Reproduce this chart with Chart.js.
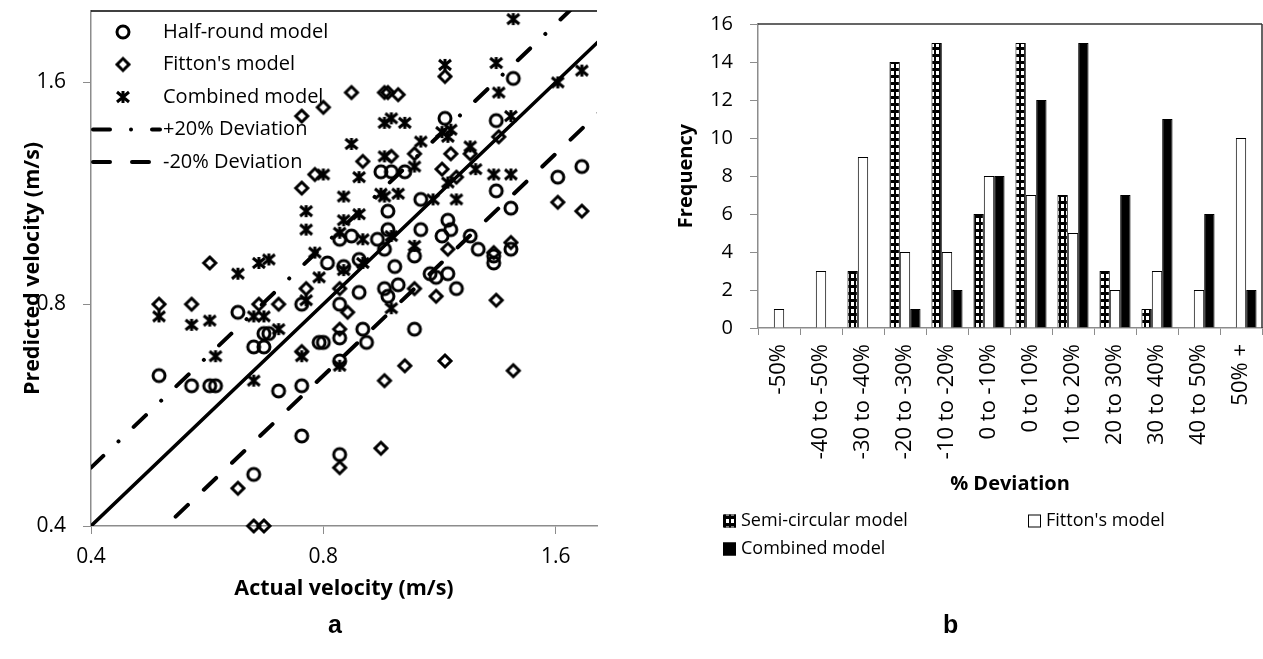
<!DOCTYPE html>
<html>
<head>
<meta charset="utf-8">
<script src="https://cdn.jsdelivr.net/npm/chart.js@4.4.1/dist/chart.umd.min.js"></script>
<style>
  html, body { margin: 0; padding: 0; background: #fff; }
  body { width: 1263px; height: 659px; position: relative; overflow: hidden; }
  #left { position: absolute; left: 0; top: 0; width: 605px; height: 659px; }
  #right { position: absolute; left: 640px; top: 0; width: 623px; height: 659px; }
  .panel { position: absolute; top: 610px; font: bold 25px "Liberation Sans", Arial, sans-serif; color: #000; }
</style>
</head>
<body>
<div id="left"><canvas id="scatter"></canvas></div>
<div id="right"><canvas id="bars"></canvas></div>
<div class="panel" style="left:328px">a</div>
<div class="panel" style="left:943px">b</div>

<script>
// ---- panel a: predicted vs actual velocity (m/s), [actual, predicted]
const halfRound = [
  [0.49,0.64],[0.54,0.62],[0.57,0.62],[0.58,0.62],[0.62,0.78],[0.67,0.73],[0.68,0.73],[0.65,0.70],
  [0.67,0.70],[0.70,0.61],[0.75,0.62],[0.75,0.53],[0.65,0.47],[0.75,0.80],[0.79,0.71],[0.80,0.71],
  [0.84,0.72],[0.84,0.80],[0.90,0.74],[0.91,0.71],[1.05,0.74],[0.84,0.67],[0.84,0.50],[0.81,0.91],
  [0.85,0.90],[0.89,0.92],[0.84,0.98],[0.87,0.99],[0.94,0.98],[0.96,0.95],[0.97,1.01],[0.97,1.07],
  [0.95,1.21],[0.98,1.21],[1.02,1.21],[1.07,1.11],[1.07,1.01],[0.99,0.90],[1.00,0.85],[0.96,0.84],
  [0.97,0.82],[0.89,0.83],[1.05,0.93],[1.10,0.88],[1.12,0.87],[1.16,0.88],[1.19,0.84],[1.16,1.04],
  [1.17,1.01],[1.14,0.99],[1.24,0.99],[1.27,0.95],[1.33,0.93],[1.33,0.91],[1.40,0.95],[1.34,1.14],
  [1.40,1.08],[1.61,1.19],[1.73,1.23],[1.15,1.43],[1.34,1.42],[1.41,1.62]
];
const fittons = [
  [0.49,0.80],[0.54,0.80],[0.57,0.91],[0.66,0.80],[0.70,0.80],[0.75,0.69],[0.62,0.45],[0.65,0.40],
  [0.67,0.40],[0.76,0.84],[0.75,1.15],[0.78,1.20],[0.75,1.44],[0.80,1.48],[0.87,1.55],[0.96,1.55],
  [0.97,1.55],[1.00,1.54],[1.15,1.63],[1.35,1.35],[1.05,1.28],[1.17,1.28],[1.24,1.28],[0.90,1.25],
  [0.98,1.27],[1.14,1.22],[1.19,1.19],[1.61,1.10],[1.73,1.07],[1.40,0.97],[1.33,0.94],[1.16,0.95],
  [0.84,0.84],[1.05,0.84],[1.12,0.82],[1.34,0.81],[0.86,0.78],[0.84,0.74],[0.96,0.63],[1.02,0.66],
  [1.15,0.67],[1.41,0.65],[0.95,0.51],[0.84,0.48]
];
const combined = [
  [0.49,0.77],[0.54,0.75],[0.57,0.76],[0.65,0.77],[0.67,0.77],[0.70,0.74],[0.58,0.68],[0.65,0.63],
  [0.75,0.68],[0.62,0.88],[0.66,0.91],[0.68,0.92],[0.76,1.07],[0.76,1.01],[1.41,1.95],[1.15,1.69],
  [1.34,1.70],[1.35,1.55],[1.73,1.66],[1.61,1.60],[1.40,1.44],[0.96,1.41],[0.98,1.43],[1.02,1.41],
  [0.87,1.32],[1.07,1.33],[1.14,1.37],[1.16,1.35],[1.17,1.38],[1.24,1.31],[1.26,1.22],[1.33,1.20],
  [1.40,1.20],[0.89,1.19],[0.80,1.20],[1.05,1.23],[0.96,1.27],[0.85,1.12],[0.95,1.13],[0.96,1.12],
  [1.00,1.13],[0.85,1.04],[0.89,1.06],[1.11,1.11],[1.19,1.11],[0.84,1.00],[0.90,0.98],[0.78,0.94],
  [0.79,0.87],[0.85,0.89],[0.90,0.91],[0.98,0.99],[1.05,0.96],[0.76,0.81],[1.16,1.17],[0.98,0.79],
  [0.84,0.66]
];
const velocityTicks = [0.4, 0.8, 1.6];
const refLineX = [0.4, 2.0];

// ---- panel b: frequency of % deviation
const deviationBins = ['-50%', '-40 to -50%', '-30 to -40%', '-20 to -30%', '-10 to -20%', '0 to -10%',
  '0 to 10%', '10 to 20%', '20 to 30%', '30 to 40%', '40 to 50%', '50% +'];
const semiCircularFreq = [0, 0, 3, 14, 15, 6, 15, 7, 3, 1, 0, 0];
const fittonFreq = [1, 3, 9, 4, 4, 8, 7, 5, 2, 3, 2, 10];
const combinedFreq = [0, 0, 0, 1, 2, 8, 12, 15, 7, 11, 6, 2];

Chart.defaults.font.family = "'Open Sans', sans-serif";
Chart.defaults.color = '#000';
const AXIS = '#8c8c8c';

// marker glyphs like the Excel ones
function marker(kind) {
  const c = document.createElement('canvas');
  c.width = 20; c.height = 20;
  const g = c.getContext('2d');
  g.strokeStyle = '#000';
  g.lineWidth = 3;
  g.beginPath();
  if (kind === 'circle') {
    g.arc(10, 10, 6, 0, Math.PI * 2);
  } else if (kind === 'diamond') {
    g.moveTo(10, 4); g.lineTo(16, 10); g.lineTo(10, 16); g.lineTo(4, 10); g.closePath();
  } else {
    g.moveTo(4, 5); g.lineTo(16, 15);
    g.moveTo(16, 5); g.lineTo(4, 15);
    g.moveTo(10, 4); g.lineTo(10, 16);
  }
  g.stroke();
  return c;
}

function semiPattern() {
  const c = document.createElement('canvas');
  c.width = 5; c.height = 7;
  const g = c.getContext('2d');
  g.fillStyle = '#000'; g.fillRect(0, 0, 5, 7);
  g.fillStyle = '#fff'; g.fillRect(1, 1, 3, 4);
  return g.createPattern(c, 'repeat');
}

// keep the plot area where the layout padding puts it
function fixBox(size, dim) {
  return (s) => {
    s[dim] = size;
    s.paddingTop = 0; s.paddingBottom = 0; s.paddingLeft = 0; s.paddingRight = 0;
  };
}

// black top (and right) edge of the plot area
const frame = {
  id: 'frame',
  beforeDatasetsDraw(chart, args, opts) {
    const { ctx, chartArea: a } = chart;
    ctx.save();
    ctx.strokeStyle = opts.color || '#000';
    ctx.lineWidth = 1.5;
    ctx.beginPath();
    ctx.moveTo(a.left, a.top); ctx.lineTo(a.right, a.top);
    if (opts.right) { ctx.moveTo(a.right, a.top); ctx.lineTo(a.right, a.bottom); }
    ctx.stroke();
    ctx.restore();
  }
};

// legend inside the plot, one row per labelled dataset
const insideLegend = {
  id: 'insideLegend',
  afterDatasetsDraw(chart, args, o) {
    const { ctx, chartArea } = chart;
    ctx.save();
    ctx.font = o.font;
    ctx.textBaseline = 'middle';
    let y = chartArea.top + o.top;
    chart.data.datasets.forEach((ds) => {
      if (!ds.label) return;
      const x0 = chartArea.left + o.left;
      if (ds.pointStyle instanceof HTMLCanvasElement) {
        const img = ds.pointStyle;
        ctx.drawImage(img, x0 + o.markerX - img.width / 2, y - img.height / 2);
      } else {
        ctx.strokeStyle = ds.borderColor;
        ctx.lineWidth = ds.borderWidth;
        ctx.lineCap = ds.borderCapStyle || 'butt';
        ctx.setLineDash(ds.borderDash || []);
        ctx.beginPath();
        ctx.moveTo(x0 + 2, y); ctx.lineTo(x0 + o.sampleLen, y);
        ctx.stroke();
        ctx.setLineDash([]);
      }
      ctx.fillStyle = '#000';
      ctx.fillText(ds.label, x0 + o.textX, y);
      y += o.rowGap;
    });
    ctx.restore();
  }
};

// two-column legend under the bar chart
const boxLegend = {
  id: 'boxLegend',
  afterDraw(chart, args, o) {
    const { ctx } = chart;
    ctx.save();
    ctx.font = o.font;
    ctx.textBaseline = 'middle';
    chart.data.datasets.forEach((ds, i) => {
      const x = o.x + (i % o.columns) * o.colWidth;
      const y = o.y + Math.floor(i / o.columns) * o.rowHeight;
      ctx.fillStyle = ds.backgroundColor;
      ctx.fillRect(x, y - o.box / 2, o.box, o.box);
      ctx.strokeStyle = '#000';
      ctx.lineWidth = 1;
      ctx.strokeRect(x + 0.5, y - o.box / 2 + 0.5, o.box - 1, o.box - 1);
      ctx.fillStyle = '#000';
      ctx.fillText(ds.label, x + o.box + o.gap, y);
    });
    ctx.restore();
  }
};

function pointSet(label, pts, kind) {
  return {
    label,
    data: pts.map(([x, y]) => ({ x, y })),
    pointStyle: marker(kind),
    pointRadius: 7,
    pointHoverRadius: 7,
    showLine: false,
    clip: false
  };
}

function refLine(label, factor, dash, width) {
  return {
    label,
    data: refLineX.map((x) => ({ x, y: x * factor })),
    showLine: true,
    borderColor: '#000',
    borderWidth: width,
    borderDash: dash,
    borderCapStyle: 'round',
    pointRadius: 0,
    pointHoverRadius: 0,
    fill: false
  };
}

new Chart(document.getElementById('scatter'), {
  type: 'scatter',
  data: {
    datasets: [
      pointSet('Half-round model', halfRound, 'circle'),
      pointSet("Fitton's model", fittons, 'diamond'),
      pointSet('Combined model', combined, 'star'),
      refLine('+20% Deviation', 1.2, [17, 21, 0.01, 21], 4),
      refLine('-20% Deviation', 0.8, [17, 22], 4),
      refLine('', 1.0, [], 3.5)
    ]
  },
  options: {
    responsive: true,
    maintainAspectRatio: false,
    animation: false,
    layout: { padding: { top: 11, right: 5, bottom: 53, left: 0 } },
    plugins: {
      legend: { display: false },
      tooltip: { enabled: false },
      frame: { color: '#000' },
      insideLegend: { font: '20px "Open Sans"', left: 0, top: 21, markerX: 32, sampleLen: 69, textX: 72, rowGap: 32.5 }
    },
    scales: {
      x: {
        type: 'logarithmic',
        min: 0.4,
        max: 1.81,
        afterBuildTicks: (s) => { s.ticks = velocityTicks.map((v) => ({ value: v })); },
        afterFit: fixBox(80, 'height'),
        ticks: { callback: (v) => Number(v).toFixed(1), font: { size: 21 }, padding: 10, maxRotation: 0 },
        grid: { drawOnChartArea: false, tickLength: 8, color: AXIS },
        border: { color: AXIS, width: 1.5 },
        title: { display: true, text: 'Actual velocity (m/s)', font: { size: 21.5, weight: 'bold' }, padding: { top: 0, bottom: 4 } }
      },
      y: {
        type: 'logarithmic',
        min: 0.4,
        max: 2.0,
        afterBuildTicks: (s) => { s.ticks = velocityTicks.map((v) => ({ value: v })); },
        afterFit: fixBox(91, 'width'),
        ticks: { callback: (v) => Number(v).toFixed(1), font: { size: 21 }, padding: 17 },
        grid: { drawOnChartArea: false, tickLength: 8, color: AXIS },
        border: { color: AXIS, width: 1.5 },
        title: { display: true, text: 'Predicted velocity (m/s)', font: { size: 21.5, weight: 'bold' }, padding: { top: 20, bottom: 0 } }
      }
    }
  },
  plugins: [frame, insideLegend]
});

new Chart(document.getElementById('bars'), {
  type: 'bar',
  data: {
    labels: deviationBins,
    datasets: [
      { label: 'Semi-circular model', data: semiCircularFreq, backgroundColor: semiPattern(), borderColor: '#000', borderWidth: 1 },
      { label: "Fitton's model", data: fittonFreq, backgroundColor: '#fff', borderColor: '#000', borderWidth: 1 },
      { label: 'Combined model', data: combinedFreq, backgroundColor: '#000', borderColor: '#000', borderWidth: 1 }
    ]
  },
  options: {
    responsive: true,
    maintainAspectRatio: false,
    animation: false,
    categoryPercentage: 0.74,
    barPercentage: 1.0,
    layout: { padding: { top: 24, right: 1, bottom: 159, left: 0 } },
    plugins: {
      legend: { display: false },
      tooltip: { enabled: false },
      frame: { color: '#333', right: true },
      boxLegend: { font: '18px "Open Sans"', x: 83, y: 521, columns: 2, colWidth: 305, rowHeight: 28, box: 13, gap: 5 }
    },
    scales: {
      x: {
        afterFit: fixBox(172, 'height'),
        ticks: { font: { size: 22 }, minRotation: 90, maxRotation: 90, autoSkip: false, padding: 9 },
        grid: { drawOnChartArea: false, offset: true, tickLength: 7, color: AXIS },
        border: { color: AXIS, width: 1.5 },
        title: { display: true, text: '% Deviation', font: { size: 20, weight: 'bold' }, padding: { top: 0, bottom: 4 } }
      },
      y: {
        min: 0,
        max: 16,
        afterFit: fixBox(118, 'width'),
        ticks: { stepSize: 2, font: { size: 20 }, padding: 17 },
        grid: { drawOnChartArea: false, tickLength: 8, color: AXIS },
        border: { color: AXIS, width: 1.5 },
        title: { display: true, text: 'Frequency', font: { size: 20, weight: 'bold' }, padding: { top: 34, bottom: 0 } }
      }
    }
  },
  plugins: [frame, boxLegend]
});
</script>
</body>
</html>
